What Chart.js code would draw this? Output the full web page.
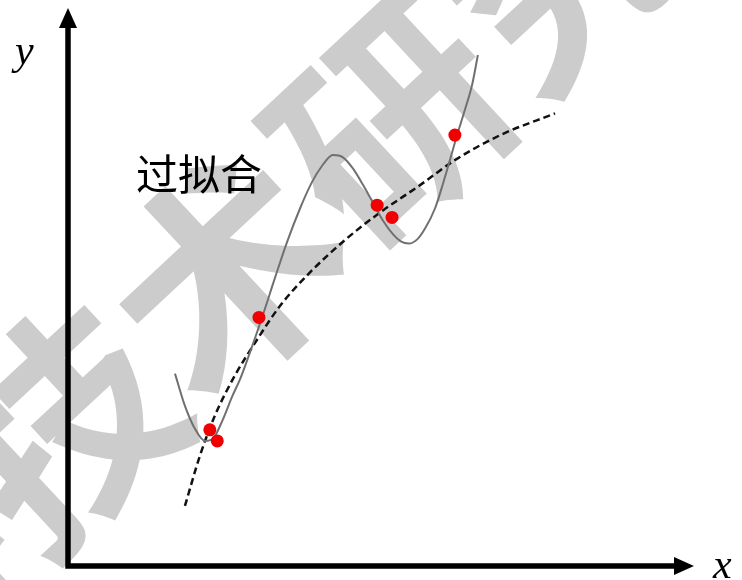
<!DOCTYPE html>
<html lang="zh">
<head>
    <meta charset="UTF-8">
    <title>过拟合</title>
    <script src="https://cdn.jsdelivr.net/npm/chart.js@4.4.1/dist/chart.umd.min.js"></script>
    <style>
        html, body { margin: 0; padding: 0; background: #fff; }
        .wrap { width: 742px; height: 580px; }
    </style>
</head>
<body>
    <div class="wrap">
        <canvas id="fitChart" width="742" height="580"></canvas>
    </div>

    <script>
        // sample points (red)
        const sampleX = [22.8, 24.0, 30.7, 49.7, 52.1, 62.2];
        const sampleY = [24.5, 22.5, 44.7, 64.9, 62.7, 77.5];

        // overfitted curve (grey, solid)
        const overX = [17.2, 18.8, 20.4, 22.0, 23.3, 24.8, 26.4, 27.7, 28.9, 31.2, 33.3, 35.2, 37.3, 39.2,
                       40.8, 42.6, 44.2, 45.8, 47.4, 49.0, 50.6, 52.3, 53.5, 54.8, 56.1, 57.4, 59.0,
                       60.3, 61.4, 62.5, 63.8, 65.0, 65.9];
        const overY = [34.6, 28.8, 24.7, 22.5, 22.9, 26.1, 30.5, 33.7, 37.3, 44.7, 51.9, 58.2, 64.3, 69.0,
                       71.9, 73.9, 73.5, 71.5, 68.6, 65.4, 62.2, 59.6, 58.4, 58.0, 58.7, 60.7, 64.3,
                       68.8, 73.0, 77.3, 82.0, 86.7, 91.9];

        // proper fit (black, dashed)
        const fitX = [18.8, 21.2, 23.6, 26.8, 30.1, 34.1, 38.9, 44.5, 50.2, 56.6, 62.2, 69.5, 78.3];
        const fitY = [10.8, 19.8, 27.0, 34.2, 40.2, 46.8, 52.8, 58.6, 63.6, 68.5, 73.0, 77.5, 81.4];

        const overLabel = '过拟合';
        const watermark = '科技术研究';

        function pts(xs, ys) {
            return xs.map((x, i) => ({ x: x, y: ys[i] }));
        }

        // watermark behind everything
        const watermarkPlugin = {
            id: 'watermark',
            beforeDraw(chart) {
                const ctx = chart.ctx;
                ctx.save();
                ctx.fillStyle = '#cccccc';
                ctx.font = 'bold 225px "Noto Sans CJK SC"';
                ctx.textBaseline = 'middle';
                ctx.textAlign = 'center';
                ctx.translate(-162, 635);
                ctx.rotate(-0.75);
                for (let i = 0; i < watermark.length; i++) {
                    ctx.fillText(watermark[i], 80 + i * 225, 0);
                }
                ctx.restore();
            }
        };

        // axes with arrows and labels
        const axesPlugin = {
            id: 'arrowAxes',
            afterDraw(chart) {
                const ctx = chart.ctx;
                const x0 = chart.scales.x.getPixelForValue(0);
                const y0 = chart.scales.y.getPixelForValue(0);
                const top = 8, right = 694;
                ctx.save();
                ctx.strokeStyle = '#000';
                ctx.fillStyle = '#000';
                ctx.lineWidth = 5.5;
                ctx.beginPath();
                ctx.moveTo(x0, top + 18);
                ctx.lineTo(x0, y0);
                ctx.lineTo(right - 18, y0);
                ctx.stroke();
                // arrow heads
                ctx.beginPath();
                ctx.moveTo(x0, top);
                ctx.lineTo(x0 - 9, top + 20);
                ctx.lineTo(x0 + 9, top + 20);
                ctx.closePath();
                ctx.fill();
                ctx.beginPath();
                ctx.moveTo(right, y0);
                ctx.lineTo(right - 20, y0 - 9);
                ctx.lineTo(right - 20, y0 + 9);
                ctx.closePath();
                ctx.fill();

                ctx.font = 'italic 42px "Liberation Serif"';
                ctx.textBaseline = 'alphabetic';
                ctx.textAlign = 'left';
                ctx.fillText('y', 15, 64);
                ctx.fillText('x', 713, 578);

                ctx.font = '42px "Noto Sans CJK SC"';
                ctx.textBaseline = 'middle';
                ctx.fillText(overLabel, 136, 174);
                ctx.restore();
            }
        };

        new Chart(document.getElementById('fitChart'), {
            type: 'scatter',
            data: {
                datasets: [
                    {
                        data: pts(fitX, fitY),
                        showLine: true,
                        borderColor: '#111',
                        borderWidth: 2.5,
                        borderDash: [7, 4],
                        pointRadius: 0,
                        cubicInterpolationMode: 'monotone',
                        order: 3
                    },
                    {
                        data: pts(overX, overY),
                        showLine: true,
                        borderColor: '#707070',
                        borderWidth: 2,
                        pointRadius: 0,
                        cubicInterpolationMode: 'monotone',
                        order: 2
                    },
                    {
                        data: pts(sampleX, sampleY),
                        backgroundColor: '#f00000',
                        borderWidth: 0,
                        pointRadius: 6.5,
                        order: 1
                    }
                ]
            },
            options: {
                responsive: false,
                animation: false,
                layout: { padding: { left: 68, right: 52, top: 10, bottom: 14 } },
                plugins: {
                    legend: { display: false },
                    tooltip: { enabled: false }
                },
                scales: {
                    x: { type: 'linear', min: 0, max: 100, display: false },
                    y: { type: 'linear', min: 0, max: 100, display: false }
                }
            },
            plugins: [watermarkPlugin, axesPlugin]
        });
    </script>
</body>
</html>
